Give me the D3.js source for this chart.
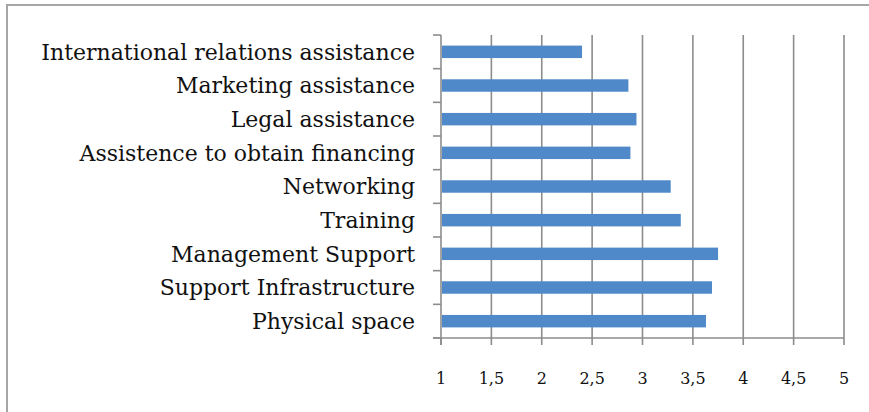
<!DOCTYPE html>
<html>
<head>
<meta charset="utf-8">
<script src="https://cdn.jsdelivr.net/npm/d3@7"></script>
<style>
  html,body{margin:0;padding:0;background:#fff;}
  svg{display:block;}
</style>
</head>
<body>
<svg id="chart" width="869" height="412"></svg>
<script>
const width = 869;
const height = 412;

// categories, top to bottom
const categories = [
  'International relations assistance',
  'Marketing assistance',
  'Legal assistance',
  'Assistence to obtain financing',
  'Networking',
  'Training',
  'Management Support',
  'Support Infrastructure',
  'Physical space'
];
const values = [2.40, 2.86, 2.94, 2.88, 3.28, 3.38, 3.75, 3.69, 3.63];
const tickValues = [1, 1.5, 2, 2.5, 3, 3.5, 4, 4.5, 5];
const tickLabels = ['1', '1,5', '2', '2,5', '3', '3,5', '4', '4,5', '5'];

const margin = {top: 35, right: 25, bottom: 74, left: 441};
const svg = d3.select('#chart');

// outer frame, partly off the picture
svg.append('rect')
  .attr('x', 7).attr('y', 5)
  .attr('width', width + 20).attr('height', height + 20)
  .attr('fill', '#fff')
  .attr('stroke', '#a6a6a6')
  .attr('stroke-width', 2);

const x = d3.scaleLinear().domain([1, 5]).range([margin.left, 844]);
const y = d3.scaleBand().domain(categories).range([margin.top, height - margin.bottom]).paddingInner(0.63).paddingOuter(0.315);
const bands = d3.scaleBand().domain(categories).range([margin.top, height - margin.bottom]);
const yBottom = height - margin.bottom;

// vertical gridlines
svg.append('g')
  .selectAll('line')
  .data(tickValues.slice(1))
  .enter().append('line')
  .attr('x1', d => x(d)).attr('x2', d => x(d))
  .attr('y1', margin.top).attr('y2', yBottom)
  .attr('stroke', '#8c8c8c')
  .attr('stroke-width', 1.6);

// bars
svg.append('g')
  .selectAll('rect')
  .data(values)
  .enter().append('rect')
  .attr('x', x(1) + 1)
  .attr('y', (d, i) => y(categories[i]))
  .attr('width', d => x(d) - x(1) - 1)
  .attr('height', y.bandwidth())
  .attr('fill', '#5089ca');

// y axis line + ticks at band boundaries
const yAxis = svg.append('g');
yAxis.append('line')
  .attr('x1', x(1)).attr('x2', x(1))
  .attr('y1', margin.top).attr('y2', yBottom + 7)
  .attr('stroke', '#8c8c8c').attr('stroke-width', 1.6);
yAxis.selectAll('.tk')
  .data(categories.concat(['end']))
  .enter().append('line')
  .attr('x1', x(1) - 8).attr('x2', x(1))
  .attr('y1', d => d === 'end' ? yBottom : bands(d))
  .attr('y2', d => d === 'end' ? yBottom : bands(d))
  .attr('stroke', '#8c8c8c').attr('stroke-width', 1.6);

yAxis.selectAll('text')
  .data(categories)
  .enter().append('text')
  .attr('x', 415)
  .attr('y', d => bands(d) + bands.bandwidth() / 2)
  .attr('dy', '0.36em')
  .attr('text-anchor', 'end')
  .attr('font-family', '"DejaVu Serif", serif')
  .attr('font-size', 22)
  .attr('fill', '#111')
  .text(d => d);

// x axis
const xAxis = svg.append('g');
xAxis.append('line')
  .attr('x1', x(1) - 8).attr('x2', x(5))
  .attr('y1', yBottom).attr('y2', yBottom)
  .attr('stroke', '#8c8c8c').attr('stroke-width', 1.6);
xAxis.selectAll('.tk')
  .data(tickValues)
  .enter().append('line')
  .attr('x1', d => x(d)).attr('x2', d => x(d))
  .attr('y1', yBottom).attr('y2', yBottom + 7)
  .attr('stroke', '#8c8c8c').attr('stroke-width', 1.6);
xAxis.selectAll('text')
  .data(tickValues)
  .enter().append('text')
  .attr('x', d => x(d))
  .attr('y', yBottom + 46)
  .attr('text-anchor', 'middle')
  .attr('font-family', '"DejaVu Serif", serif')
  .attr('font-size', 16)
  .attr('fill', '#111')
  .text((d, i) => tickLabels[i]);
</script>
</body>
</html>
